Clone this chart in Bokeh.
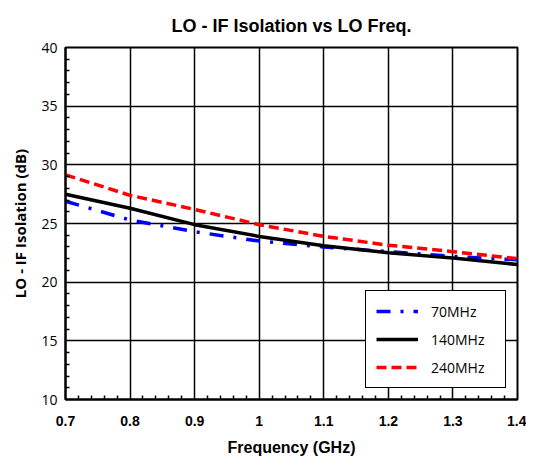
from bokeh.plotting import figure
from bokeh.embed import file_html
from bokeh.resources import INLINE
from bokeh.models import FixedTicker, CustomJSTickFormatter, Range1d, Legend, LegendItem

freq = [0.7, 0.8, 0.9, 1.0, 1.1, 1.2, 1.3, 1.4]
iso_70 = [26.9, 25.3, 24.3, 23.5, 23.0, 22.6, 22.2, 21.9]
iso_140 = [27.5, 26.3, 24.9, 23.9, 23.1, 22.5, 22.05, 21.5]
iso_240 = [29.15, 27.4, 26.2, 24.9, 23.9, 23.15, 22.6, 22.0]

x_ticks = [0.7, 0.8, 0.9, 1.0, 1.1, 1.2, 1.3, 1.4]
y_ticks = [10, 15, 20, 25, 30, 35, 40]

p = figure(width=526, height=458, output_backend="svg", toolbar_location=None,
           x_range=Range1d(0.7, 1.4), y_range=Range1d(10, 40),
           min_border_left=65, min_border_right=9, min_border_bottom=58, min_border_top=47)

p.title.text = "LO - IF Isolation vs LO Freq."
p.title.align = "center"
p.title.text_font = "Liberation Sans"
p.title.text_font_size = "18px"
p.title.text_font_style = "bold"
p.title.text_color = "black"
p.title.standoff = 24

l1 = p.line(freq, iso_70, line_color="blue", line_width=3.5, line_dash="14 10 3 10")
l2 = p.line(freq, iso_140, line_color="black", line_width=3.5)
l3 = p.line(freq, iso_240, line_color="red", line_width=3.5, line_dash="10 5")

minor_x = [round(0.7 + 0.02 * i, 2) for i in range(36) if i % 5 != 0]
minor_y = [10 + i for i in range(31) if i % 5 != 0]
p.xaxis.ticker = FixedTicker(ticks=x_ticks, minor_ticks=minor_x)
p.yaxis.ticker = FixedTicker(ticks=y_ticks, minor_ticks=minor_y)
p.xaxis.formatter = CustomJSTickFormatter(code="return tick.toFixed(1).replace(/\\.0$/, '');")

for ax in (p.xaxis, p.yaxis):
    ax.major_tick_in = 0
    ax.major_tick_out = 0
    ax.minor_tick_in = 4
    ax.minor_tick_out = 0
    ax.minor_tick_line_color = "black"
    ax.minor_tick_line_width = 1.5
    ax.axis_line_color = "black"
    ax.axis_line_width = 2
    ax.major_label_text_font_size = "14px"
    ax.major_label_text_color = "black"
    ax.axis_label_text_font_style = "bold"
    ax.axis_label_text_color = "black"

p.xaxis.major_label_text_font = "Liberation Sans"
p.xaxis.major_label_text_font_style = "bold"
p.yaxis.major_label_text_font = "Open Sans"
p.yaxis.major_label_text_font_style = "normal"
p.xaxis.axis_label_text_font = "Liberation Sans"
p.xaxis.axis_label_text_font_size = "16px"
p.yaxis.axis_label_text_font = "Open Sans"
p.yaxis.axis_label_text_font_size = "15px"

p.xaxis.axis_label = "Frequency (GHz)"
p.yaxis.axis_label = "LO - IF Isolation (dB)"
p.xaxis.major_label_standoff = 16
p.yaxis.major_label_standoff = 8
p.xaxis.axis_label_standoff = 10
p.yaxis.axis_label_standoff = 8

p.xgrid.ticker = FixedTicker(ticks=x_ticks)
p.ygrid.ticker = FixedTicker(ticks=y_ticks)
p.grid.grid_line_color = "black"
p.grid.grid_line_width = 1.5
p.grid.grid_line_alpha = 1
p.outline_line_color = "black"
p.outline_line_width = 2
p.outline_line_alpha = 1

legend = Legend(items=[LegendItem(label="70MHz", renderers=[l1]),
                       LegendItem(label="140MHz", renderers=[l2]),
                       LegendItem(label="240MHz", renderers=[l3])],
                location="bottom_right")
legend.border_line_color = "black"
legend.border_line_width = 1.5
legend.border_line_alpha = 1
legend.background_fill_alpha = 1
legend.label_text_font = "Open Sans"
legend.label_text_font_size = "14px"
legend.label_text_color = "black"
legend.glyph_width = 42
legend.glyph_height = 20
legend.label_standoff = 13
legend.spacing = 8
legend.padding = 10
legend.margin = 11
legend.label_width = 64
p.add_layout(legend)

open("out.html", "w").write(file_html(p, INLINE))
